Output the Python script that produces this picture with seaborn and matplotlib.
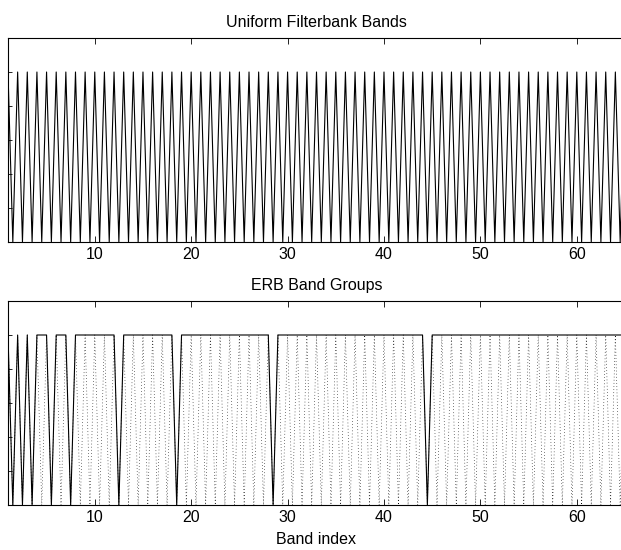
import numpy as np
import pandas as pd
import matplotlib
matplotlib.use("Agg")
import matplotlib.pyplot as plt
import seaborn as sns

# ---- data ----
band_centers = list(range(1, 66))          # uniform filterbank band indices
band_peak = [1.0] * len(band_centers)      # peak gain of each band
group_start = [1, 2, 3, 4, 6, 8, 13, 19, 29, 45]   # ERB group first band
group_end   = [1, 2, 3, 5, 7, 12, 18, 28, 44, 65]  # ERB group last band
x_ticks = [10, 20, 30, 40, 50, 60]
y_ticks = [0, 0.2, 0.4, 0.6, 0.8, 1.0, 1.2]
titles = ["Uniform Filterbank Bands", "ERB Band Groups"]
xlabel = "Band index"

# ---- build polylines ----
def tri_frame(centers, peaks):
    xs, ys = [], []
    for c, p in zip(centers, peaks):
        xs += [c - 0.5, c, c + 0.5]
        ys += [0.0, p, 0.0]
    return pd.DataFrame({"x": xs, "y": ys})

def trap_frame(starts, ends):
    xs, ys = [], []
    for s, e in zip(starts, ends):
        xs += [s - 0.5, s, e, e + 0.5]
        ys += [0.0, 1.0, 1.0, 0.0]
    return pd.DataFrame({"x": xs, "y": ys})

tri = tri_frame(band_centers, band_peak)
trap = trap_frame(group_start, group_end)

sns.set_style("white")
plt.rcParams["font.family"] = ["Liberation Sans", "DejaVu Sans"]
plt.rcParams["text.color"] = "black"
plt.rcParams["xtick.color"] = "black"
plt.rcParams["ytick.color"] = "black"
plt.rcParams["axes.labelcolor"] = "black"

W, H = 621, 550
fig = plt.figure(figsize=(W / 100, H / 100), dpi=100)

def px_axes(left, top, right, bottom):
    return fig.add_axes([left / W, 1 - bottom / H, (right - left) / W, (bottom - top) / H])

ax1 = px_axes(8, 38, 625, 242)
ax2 = px_axes(8, 301, 625, 505)

sns.lineplot(data=tri, x="x", y="y", sort=False, estimator=None, color="black",
             linewidth=0.8, ax=ax1)
sns.lineplot(data=tri, x="x", y="y", sort=False, estimator=None, color="black",
             linewidth=0.5, linestyle=(0, (1, 3.5)), ax=ax2)
sns.lineplot(data=trap, x="x", y="y", sort=False, estimator=None, color="black",
             linewidth=0.8, ax=ax2)

FS = 11.5
for ax, t in zip([ax1, ax2], titles):
    ax.set_xlim(1, 65)
    ax.set_ylim(0, 1.2)
    ax.set_xticks(x_ticks)
    ax.set_xticklabels([str(v) for v in x_ticks], fontsize=FS)
    ax.set_yticks(y_ticks)
    ax.set_yticklabels([])
    ax.tick_params(axis="x", direction="in", length=4.3, width=0.6, top=True,
                   bottom=True, pad=3.5, colors="black")
    ax.tick_params(axis="y", direction="in", length=2.9, width=0.6, left=True,
                   right=True, colors="black")
    for s in ax.spines.values():
        s.set_visible(True)
        s.set_color("black")
        s.set_linewidth(0.8)
    ax.set_title(t, fontsize=FS, pad=8, color="black")
    ax.set_xlabel("")
    ax.set_ylabel("")

ax2.set_xlabel(xlabel, fontsize=FS, labelpad=5, color="black")

fig.savefig("out.png", dpi=100, facecolor="white")
